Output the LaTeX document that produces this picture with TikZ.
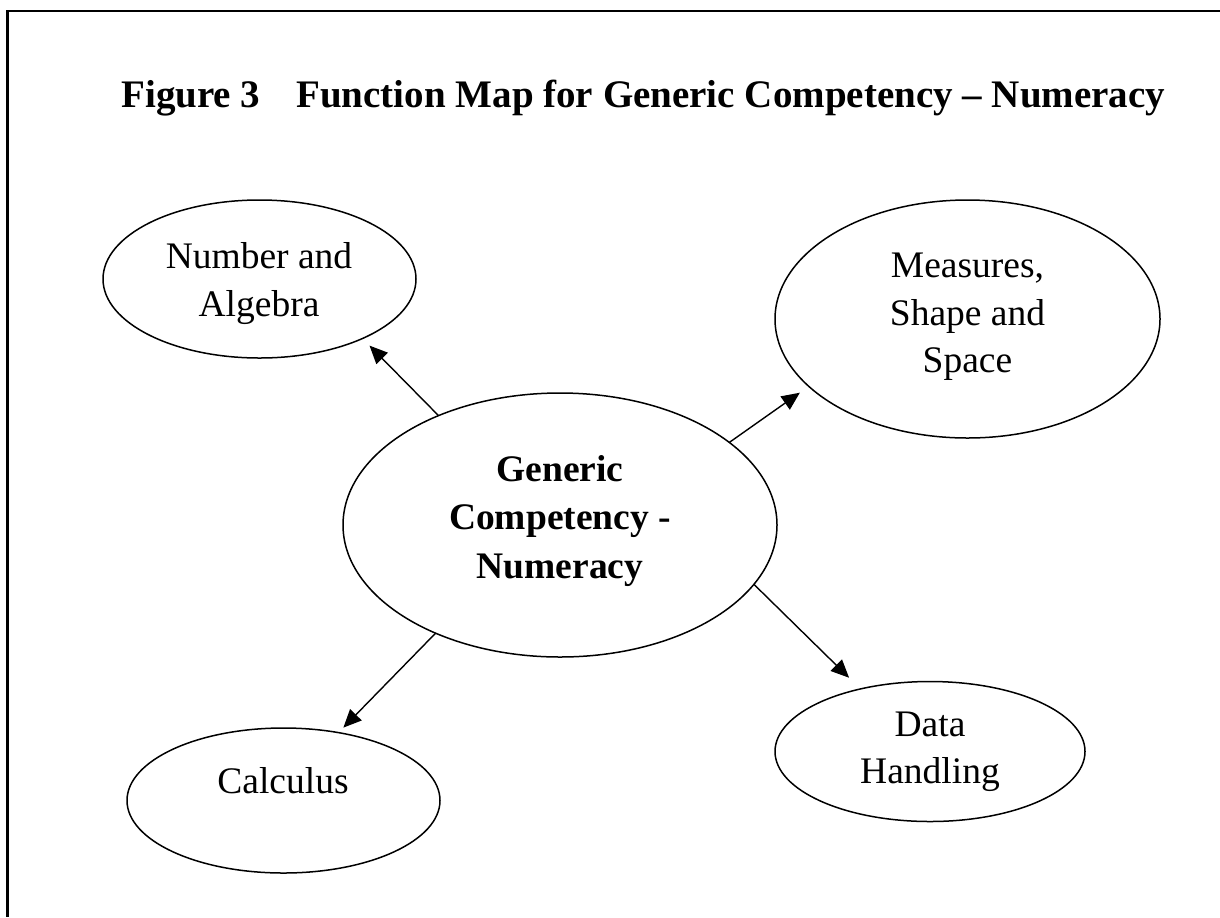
\documentclass[tikz,border=0pt]{standalone}
\usepackage{fontspec}
\setmainfont{Liberation Serif}
\usetikzlibrary{arrows.meta,shapes.geometric}
\begin{document}
\begin{tikzpicture}[x=0.5pt,y=-0.5pt,
  bubble/.style={draw,ellipse,line width=0.75pt,inner sep=0pt,outer sep=0pt},
  lbl/.style={align=center,inner sep=0pt,font=\fontsize{18.75}{23.75}\selectfont},
  blbl/.style={align=center,inner sep=0pt,font=\fontsize{18.75}{24.25}\selectfont\bfseries},
  arr/.style={-{Triangle[length=9pt,width=8pt]},line width=0.7pt},
  frameline/.style={line width=1.1pt}]
\useasboundingbox (0,0) rectangle (1220,917);
% frame
\coordinate (fr1) at (1220,11);
\coordinate (fr2) at (7.5,11);
\coordinate (fr3) at (7.5,917);
\draw[frameline] (fr1) -- (fr2) -- (fr3);
% title
\node[anchor=base west,inner sep=0pt,font=\fontsize{19.5}{22}\selectfont\bfseries] (title) at (121,107)
  {Figure 3\hspace{18pt}Function Map for Generic Competency – Numeracy};
% ellipses
\node[bubble,minimum width=217pt,minimum height=132pt] (c) at (560,525) {};
\node[bubble,minimum width=156.5pt,minimum height=79pt] (na) at (259.5,279) {};
\node[bubble,minimum width=192.5pt,minimum height=119pt] (ms) at (967.5,319) {};
\node[bubble,minimum width=156.5pt,minimum height=72.5pt] (calc) at (283.5,800.5) {};
\node[bubble,minimum width=155pt,minimum height=70pt] (dh) at (930,751.5) {};
% labels
\node[blbl] (ct) at (560,520.6) {Generic\\Competency -\\Numeracy};
\node[lbl] (nat) at (259,283.5) {Number and\\Algebra};
\node[lbl] (mst) at (967.5,317) {Measures,\\Shape and\\Space};
\node[lbl,anchor=base] (calct) at (283,793) {Calculus};
\node[lbl] (dht) at (930,752) {Data\\Handling};
% connectors
\draw[arr,shorten >=5pt] (c.138) -- (na.-30.4);
\draw[arr,shorten >=5.5pt] (c.26.8) -- (ms.203.5);
\draw[arr,shorten >=3.5pt] (c.221.5) -- (calc.51);
\draw[arr,shorten >=8pt] (c.-17.3) -- (dh.138.7);
\end{tikzpicture}
\end{document}
